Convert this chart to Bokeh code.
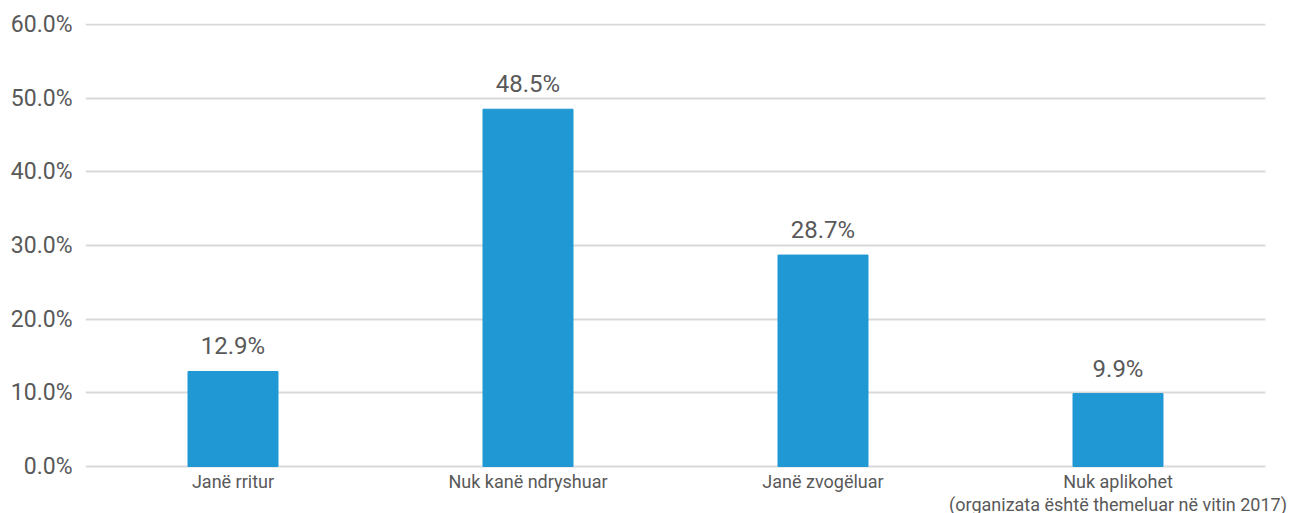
from bokeh.plotting import figure
from bokeh.models import ColumnDataSource, Range1d, FixedTicker, PrintfTickFormatter
from bokeh.core.properties import value
from bokeh.embed import file_html
from bokeh.resources import INLINE

categories = ["Janë rritur", "Nuk kanë ndryshuar", "Janë zvogëluar", "Nuk aplikohet"]
category_labels = ["Janë rritur", "Nuk kanë ndryshuar", "Janë zvogëluar",
                   "Nuk aplikohet\n(organizata është themeluar në vitin 2017)"]
values = [12.9, 48.5, 28.7, 9.9]
y_ticks = [0, 10, 20, 30, 40, 50, 60]

FONT = "Roboto"
TXT = "#595959"
GRID = "#D9D9D9"
BAR = "#1F98D3"

n = len(categories)
pos = list(range(n))
src = ColumnDataSource(dict(x=pos, cat=categories, val=values, base=[0] * n,
                            name=category_labels,
                            lab=[f"{v:.1f}%" for v in values]))

# frame extends past the gridlines so the long category label is not clipped
p = figure(x_range=Range1d(-0.5, n - 0.5 + 32 / 295), y_range=Range1d(-6.38, 60.136),
           width=1297, height=513, output_backend="svg", toolbar_location=None,
           x_axis_location=None,
           min_border_left=85, min_border_right=0, min_border_top=23, min_border_bottom=0)
p.outline_line_color = None

p.vbar(x="x", top="val", width=0.305, source=src, color=BAR)
p.text(x="x", y="val", text="lab", source=src, y_offset=-11,
       text_align="center", text_baseline="bottom", text_color=TXT,
       text_font=value(FONT), text_font_size="24px")
p.text(x="x", y="base", text="name", source=src, y_offset=4,
       text_align="center", text_baseline="top", text_color=TXT,
       text_font=value(FONT), text_font_size="18px", text_line_height=1.1)

p.yaxis.ticker = FixedTicker(ticks=y_ticks)
p.yaxis.formatter = PrintfTickFormatter(format="%.1f%%")
p.yaxis.axis_line_color = None
p.yaxis.major_tick_line_color = None
p.yaxis.minor_tick_line_color = None
p.yaxis.major_label_text_font = FONT
p.yaxis.major_label_text_font_size = "23px"
p.yaxis.major_label_text_color = TXT
p.yaxis.major_label_standoff = 7

p.xgrid.grid_line_color = None
p.ygrid.grid_line_color = GRID
p.ygrid.grid_line_width = 2
p.ygrid.cross_bounds = (-0.5, n - 0.5)

open("out.html", "w").write(file_html(p, INLINE))
